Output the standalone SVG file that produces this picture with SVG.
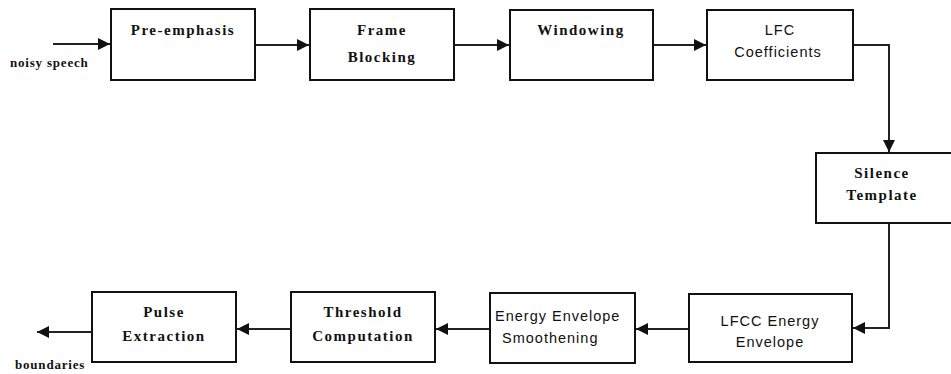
<svg xmlns="http://www.w3.org/2000/svg" width="951" height="374" viewBox="0 0 951 374">
<style>
.box{fill:#fff;stroke:#111;stroke-width:2}
.ser{font-family:"Liberation Serif","Times New Roman",serif;font-weight:bold;font-size:15px;letter-spacing:1.5px;fill:#111;text-anchor:middle}
.san{font-family:"Liberation Sans",Arial,sans-serif;font-size:14.5px;letter-spacing:1px;fill:#111;text-anchor:middle}
.lbl{font-family:"Liberation Serif","Times New Roman",serif;font-weight:bold;font-size:13px;letter-spacing:0.8px;fill:#111}
.conn{fill:none;stroke:#222;stroke-width:2}
</style>
<defs>
<marker id="ah" viewBox="0 0 10 10" refX="10" refY="5" markerWidth="6.5" markerHeight="6" orient="auto" markerUnits="strokeWidth">
<path d="M0,0 L10,5 L0,10 z" fill="#111"/>
</marker>
</defs>
<rect width="951" height="374" fill="#fff"/>
<g id="connectors">
<path class="conn" d="M53,44 H110" marker-end="url(#ah)"/>
<path class="conn" d="M255,45 H309" marker-end="url(#ah)"/>
<path class="conn" d="M454,45 H509" marker-end="url(#ah)"/>
<path class="conn" d="M653,45 H706" marker-end="url(#ah)"/>
<path class="conn" d="M853,45 H889 V152" marker-end="url(#ah)"/>
<path class="conn" d="M889,223 V328 H853" marker-end="url(#ah)"/>
<path class="conn" d="M689,329 H636" marker-end="url(#ah)"/>
<path class="conn" d="M490,329 H436" marker-end="url(#ah)"/>
<path class="conn" d="M291,329 H237" marker-end="url(#ah)"/>
<path class="conn" d="M92,332 H37" marker-end="url(#ah)"/>
</g>
<text class="lbl" x="10" y="67">noisy speech</text>
<text class="lbl" x="15" y="369">boundaries</text>
<g id="pre-emphasis">
<rect class="box" x="111" y="9" width="144" height="71"/>
<text class="ser" x="183" y="35">Pre-emphasis</text>
</g>
<g id="frame-blocking">
<rect class="box" x="310" y="9" width="144" height="71"/>
<text class="ser" x="382" y="35">Frame</text>
<text class="ser" x="382" y="62">Blocking</text>
</g>
<g id="windowing">
<rect class="box" x="510" y="10" width="143" height="70"/>
<text class="ser" x="581" y="35">Windowing</text>
</g>
<g id="lfc-coefficients">
<rect class="box" x="707" y="10" width="146" height="70"/>
<text class="san" x="780" y="35">LFC</text>
<text class="san" x="778" y="57">Coefficients</text>
</g>
<g id="silence-template">
<rect class="box" x="816" y="153" width="140" height="70"/>
<text class="ser" x="882" y="178">Silence</text>
<text class="ser" x="882" y="200">Template</text>
</g>
<g id="lfcc-energy-envelope">
<rect class="box" x="689" y="294" width="163" height="68"/>
<text class="san" x="770" y="326">LFCC Energy</text>
<text class="san" x="770" y="347">Envelope</text>
</g>
<g id="energy-envelope-smoothening">
<rect class="box" x="490" y="293" width="145" height="70"/>
<text class="san" x="495" y="321" style="text-anchor:start">Energy Envelope</text>
<text class="san" x="502" y="343" style="text-anchor:start">Smoothening</text>
</g>
<g id="threshold-computation">
<rect class="box" x="291" y="292" width="144" height="70"/>
<text class="ser" x="363" y="317">Threshold</text>
<text class="ser" x="363" y="341">Computation</text>
</g>
<g id="pulse-extraction">
<rect class="box" x="92" y="292" width="144" height="70"/>
<text class="ser" x="164" y="317">Pulse</text>
<text class="ser" x="164" y="341">Extraction</text>
</g>
</svg>
